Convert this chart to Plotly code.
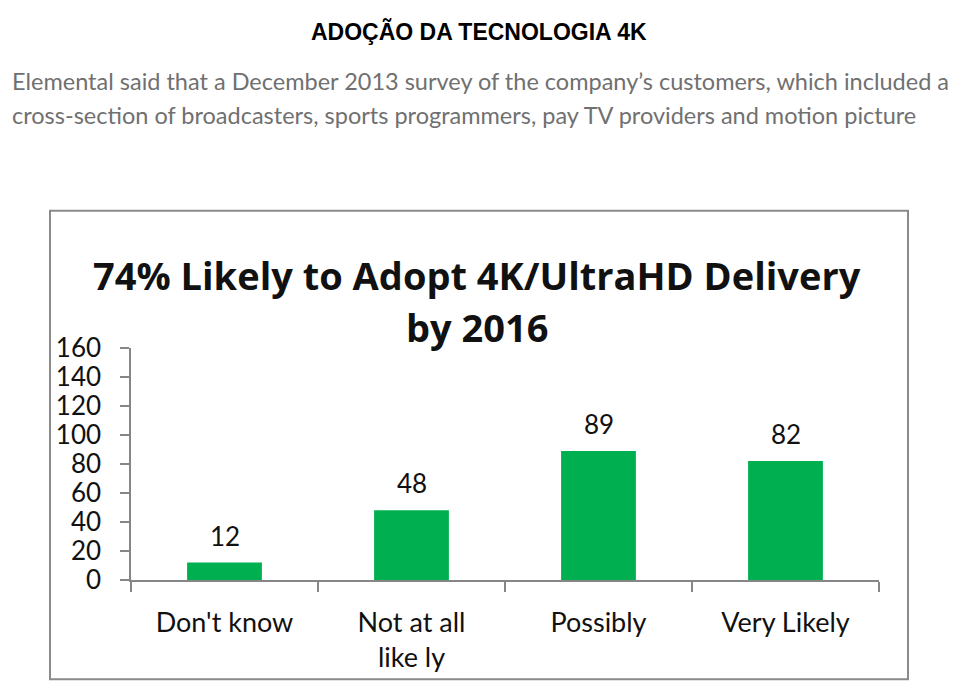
import plotly.graph_objects as go

categories = ["Don't know", "Not at all likely", "Possibly", "Very Likely"]
tick_labels = ["Don't know", "Not at all<br>like ly", "Possibly", "Very Likely"]
values = [12, 48, 89, 82]
y_ticks = [0, 20, 40, 60, 80, 100, 120, 140, 160]

page_title = "ADOÇÃO DA TECNOLOGIA 4K"
para_lines = [
    "Elemental said that a December 2013 survey of the company’s customers, which included a",
    "cross-section of broadcasters, sports programmers, pay TV providers and motion picture",
]
chart_title_lines = ["74% Likely to Adopt 4K/UltraHD Delivery", "by 2016"]

W, H = 960, 697
def px(x):
    return x / W
def py(y):
    return 1 - y / H

fig = go.Figure()
fig.add_trace(go.Bar(
    x=categories, y=values, marker=dict(color="#00B050", line=dict(width=0)),
    hoverinfo="skip", showlegend=False,
))

annotations = []
for c, v in zip(categories, values):
    annotations.append(dict(x=c, y=v, xref="x", yref="y", text=str(v), showarrow=False,
                            yanchor="bottom", yshift=9,
                            font=dict(family="Lato, Open Sans, sans-serif", size=26, color="#111")))

annotations.append(dict(x=px(479), y=py(15), xref="paper", yref="paper", text="<b>" + page_title + "</b>",
                        showarrow=False, xanchor="center", yanchor="middle",
                        font=dict(family="Liberation Sans Narrow, Arial Narrow, Liberation Sans, sans-serif",
                                  size=23, color="#000")))
for line, yy in zip(para_lines, [67, 103]):
    annotations.append(dict(x=px(10), y=py(yy), xref="paper", yref="paper", text=line,
                            showarrow=False, xanchor="left", yanchor="middle",
                            font=dict(family="Lato, sans-serif", size=23.5, color="#707070")))
for line, yy in zip(chart_title_lines, [270, 325]):
    annotations.append(dict(x=px(477), y=py(yy), xref="paper", yref="paper", text="<b>" + line + "</b>",
                            showarrow=False, xanchor="center", yanchor="middle",
                            font=dict(family="Open Sans, sans-serif", size=38, color="#111")))

shapes = [dict(type="rect", xref="paper", yref="paper",
               x0=px(50), x1=px(908), y0=py(694), y1=py(203),
               line=dict(color="#8a8a8a", width=2), fillcolor="rgba(0,0,0,0)", layer="below")]

fig.update_layout(
    width=W, height=H, margin=dict(l=0, r=0, t=0, b=0),
    paper_bgcolor="white", plot_bgcolor="white",
    bargap=0.6,
    annotations=annotations,
    shapes=shapes,
    xaxis=dict(domain=[px(131), px(879)], tickmode="array", tickvals=categories, ticktext=tick_labels,
               showline=True, linecolor="#868686", linewidth=1.5, ticks="outside", tickson="boundaries",
               ticklen=10, tickcolor="#868686", tickwidth=1.5, showgrid=False, zeroline=False,
               ticklabelstandoff=18,
               tickfont=dict(family="Lato, Open Sans, sans-serif", size=27, color="#111"), fixedrange=True),
    yaxis=dict(domain=[py(590), py(347)], range=[0, 160], tickmode="array", tickvals=y_ticks,
               showline=True, linecolor="#868686", linewidth=1.5, ticks="outside", ticklen=9,
               tickcolor="#868686", tickwidth=1.5, showgrid=False, zeroline=False,
               ticklabelstandoff=14,
               tickfont=dict(family="Lato, Open Sans, sans-serif", size=26, color="#111"), fixedrange=True),
)

fig.write_html("out.html")
